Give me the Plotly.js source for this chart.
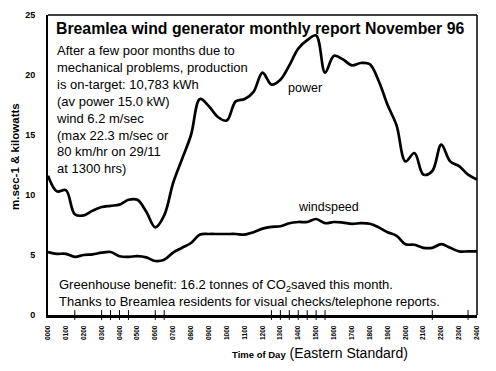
<!DOCTYPE html>
<html><head><meta charset="utf-8">
<script src="https://cdn.plot.ly/plotly-3.0.1.min.js"></script>
<style>html,body{margin:0;padding:0;background:#fff}#chart{width:496px;height:371px}</style>
</head><body><div id="chart"></div>
<script>
// Time of day in hours (half-hourly samples)
const hours = [0,0.5,1,1.5,2,2.5,3,3.5,4,4.5,5,5.5,6,6.5,7,7.5,8,8.5,9,9.5,10,10.5,11,11.5,12,12.5,13,13.5,14,14.5,15,15.5,16,16.5,17,17.5,18,18.5,19,19.5,20,20.5,21,21.5,22,22.5,23,23.5,24];
// Average power (kW)
const power = [11.6,10.3,10.4,8.4,8.3,8.7,9.0,9.1,9.2,9.6,9.6,8.6,7.3,8.3,11.0,13.0,15.0,18.0,17.4,16.5,16.2,17.8,18.0,18.6,20.2,19.2,19.6,20.8,22.2,22.9,23.3,20.2,21.6,21.3,20.8,21.0,20.9,19.5,17.5,15.8,12.8,13.5,11.7,12.0,14.2,12.8,12.4,11.7,11.3];
// Average windspeed (m/sec)
const windspeed = [5.25,5.1,5.1,4.85,5.0,5.05,5.2,5.25,4.9,4.85,4.9,4.8,4.5,4.6,5.2,5.6,6.0,6.7,6.75,6.75,6.75,6.75,6.7,6.9,7.2,7.35,7.4,7.65,7.75,7.75,8.0,7.65,7.75,7.7,7.6,7.65,7.6,7.3,6.9,6.6,5.9,5.85,5.6,5.6,5.9,5.6,5.3,5.3,5.3];
// Tick label positions and texts
const hourTicks = [0,1,2,3,4,5,6,7,8,9,10,11,12,13,14,15,16,17,18,19,20,21,22,23,24];
const hourLabels = ["0000","0100","0200","0300","0400","0500","0600","0700","0800","0900","1000","1100","1200","1300","1400","1500","1600","1700","1800","1900","2000","2100","2200","2300","2400"];
// Small tick marks crossing the time axis
const tickMarkHours = [1.5,3,3.5,4,4.5,6,6.5,12.5,13,13.5,14,14.5,15,15.5,21.5,23.5];
const titleText = "Breamlea wind generator monthly report November 96";
const noteLines = ["After a few poor months due to","mechanical problems, production","is on-target: 10,783 kWh","(av power 15.0 kW)","wind 6.2 m/sec","(max 22.3 m/sec or","80 km/hr on 29/11","at 1300 hrs)"];
const footLine1 = "Greenhouse benefit: 16.2 tonnes of CO<sub>2</sub>saved this month.";
const footLine2 = "Thanks to Breamlea residents for visual checks/telephone reports.";

const L=48, R=477, T=15, B=315;
const fx = p => (p-L)/(R-L);
const fy = p => (B-p)/(B-T);
const FONT = "Arial, 'Liberation Sans', sans-serif";

const traces = [
  {x: hours, y: power, mode:'lines', line:{color:'#000', width:2.7, shape:'spline', smoothing:1}, hoverinfo:'skip'},
  {x: hours, y: windspeed, mode:'lines', line:{color:'#000', width:2.7, shape:'spline', smoothing:1}, hoverinfo:'skip'},
  {x: tickMarkHours, y: tickMarkHours.map(()=>0), mode:'markers', cliponaxis:false,
   marker:{symbol:'line-ns-open', size:7, color:'#000', line:{color:'#000', width:1}}, hoverinfo:'skip'}
];

const layout = {
  width:496, height:371,
  margin:{l:L, r:496-R, t:T, b:371-B, pad:0},
  paper_bgcolor:'#fff', plot_bgcolor:'#fff',
  showlegend:false,
  font:{family:FONT, color:'#000'},
  xaxis:{range:[0,24], tickvals:hourTicks, ticktext:hourLabels, tickangle:-90,
    tickfont:{family:FONT, size:6.5, weight:'bold', color:'#000'},
    showgrid:false, zeroline:false, showline:true, linecolor:'#000', linewidth:3,
    ticks:'', ticklabelstandoff:5, fixedrange:true},
  yaxis:{range:[0,25], tickvals:[0,5,10,15,20,25], showgrid:false, zeroline:false,
    showline:true, linecolor:'#000', linewidth:2, ticks:'',
    tickfont:{family:FONT, size:9, weight:'bold', color:'#000'}, ticklabelstandoff:9, fixedrange:true},
  shapes:[
    {type:'line', xref:'paper', yref:'paper', x0:0, x1:1, y0:1, y1:1, line:{color:'#000', width:1.5}},
    {type:'line', xref:'paper', yref:'paper', x0:1, x1:1, y0:0, y1:1, line:{color:'#000', width:1.5}}
  ],
  annotations:[
    {xref:'paper', yref:'paper', x:fx(54), y:fy(28), xanchor:'left', yanchor:'middle', showarrow:false,
     text:'<b>'+titleText+'</b>', font:{family:FONT, size:15.8, color:'#000'}},
    {xref:'paper', yref:'paper', x:fx(54), y:fy(109.5), xanchor:'left', yanchor:'middle', align:'left', showarrow:false,
     text:noteLines.join('<br>'), font:{family:FONT, size:13, color:'#000'}},
    {xref:'paper', yref:'paper', x:fx(305), y:fy(88), xanchor:'center', yanchor:'middle', showarrow:false,
     text:'power', font:{family:FONT, size:12.5, color:'#000'}},
    {xref:'paper', yref:'paper', x:fx(328), y:fy(207), xanchor:'center', yanchor:'middle', showarrow:false,
     text:'windspeed', font:{family:FONT, size:12.5, color:'#000'}},
    {xref:'paper', yref:'paper', x:fx(57), y:fy(285), xanchor:'left', yanchor:'middle', showarrow:false,
     text:footLine1, font:{family:FONT, size:13, color:'#000'}},
    {xref:'paper', yref:'paper', x:fx(57), y:fy(301.5), xanchor:'left', yanchor:'middle', showarrow:false,
     text:footLine2, font:{family:FONT, size:13, color:'#000'}},
    {xref:'paper', yref:'paper', x:fx(15), y:fy(157), xanchor:'center', yanchor:'middle', textangle:-90, showarrow:false,
     text:'<b>m.sec-1 &amp; kilowatts</b>', font:{family:FONT, size:11.5, color:'#000'}},
    {xref:'paper', yref:'paper', x:fx(320), y:fy(353), xanchor:'center', yanchor:'middle', showarrow:false,
     text:'<b><span style="font-size:9.5px">Time of Day</span></b> (Eastern Standard)', font:{family:FONT, size:14, color:'#000'}}
  ]
};

Plotly.newPlot('chart', traces, layout, {staticPlot:true, displayModeBar:false});
</script>
</body></html>
